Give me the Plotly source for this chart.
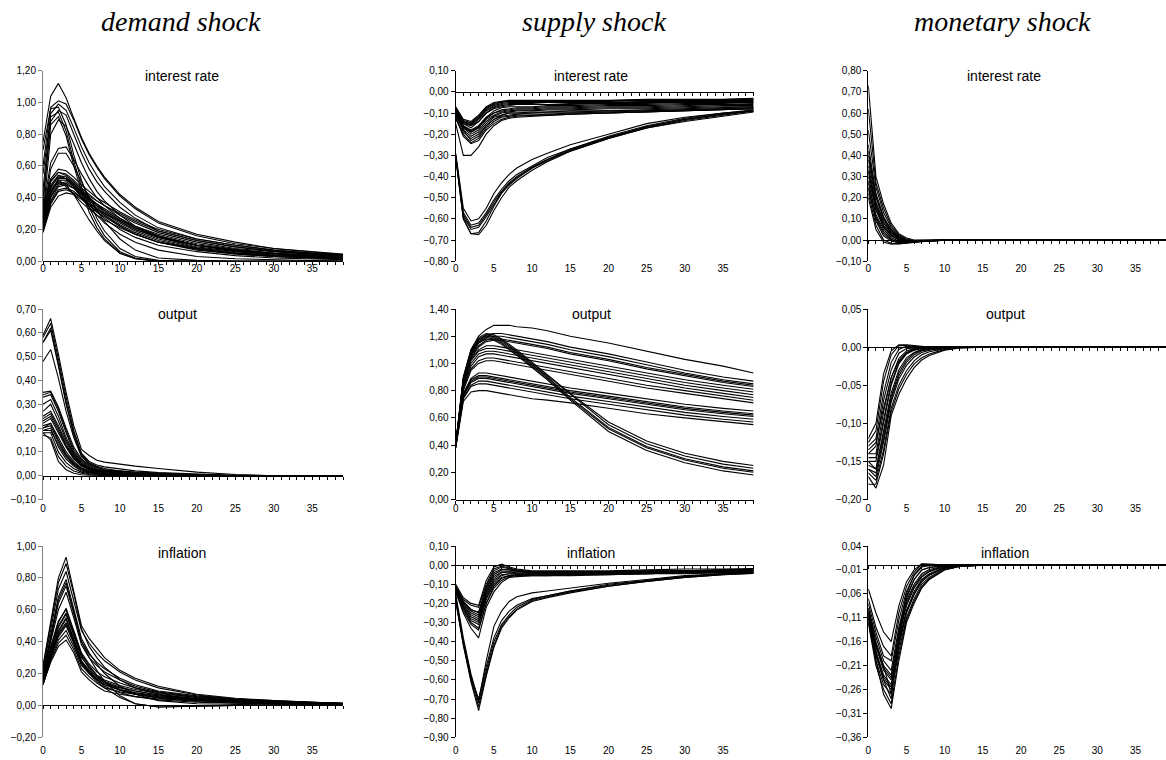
import plotly.graph_objects as go

# ---------------- data ----------------
PERIODS = [0, 1, 2, 3, 4, 5, 6, 7, 8, 10, 12, 15, 20, 25, 30, 35, 39]
X_TICKS = [0, 5, 10, 15, 20, 25, 30, 35]

SHOCKS = ["demand shock", "supply shock", "monetary shock"]
VARIABLES = ["interest rate", "output", "inflation"]

DEMAND_INTEREST = [
    [0.75, 1.04, 1.12, 1.03, 0.90, 0.78, 0.68, 0.60, 0.53, 0.42, 0.34, 0.25, 0.17, 0.12, 0.08, 0.06, 0.045],
    [0.60, 0.97, 1.01, 0.99, 0.89, 0.77, 0.67, 0.59, 0.52, 0.41, 0.33, 0.24, 0.16, 0.11, 0.08, 0.06, 0.04],
    [0.45, 0.93, 0.99, 0.95, 0.84, 0.72, 0.62, 0.54, 0.47, 0.37, 0.29, 0.21, 0.14, 0.10, 0.07, 0.05, 0.035],
    [0.35, 0.88, 0.95, 0.92, 0.80, 0.68, 0.58, 0.50, 0.44, 0.34, 0.27, 0.19, 0.13, 0.09, 0.06, 0.045, 0.03],
    [0.70, 0.96, 0.97, 0.86, 0.67, 0.51, 0.38, 0.27, 0.19, 0.08, 0.03, 0.005, 0.0, 0.0, 0.0, 0.0, 0.0],
    [0.55, 0.91, 0.94, 0.82, 0.63, 0.47, 0.34, 0.24, 0.16, 0.06, 0.02, 0.0, 0.0, 0.0, 0.0, 0.0, 0.0],
    [0.40, 0.86, 0.91, 0.79, 0.60, 0.44, 0.31, 0.21, 0.14, 0.05, 0.015, 0.0, 0.0, 0.0, 0.0, 0.0, 0.0],
    [0.28, 0.80, 0.89, 0.85, 0.74, 0.62, 0.52, 0.44, 0.38, 0.29, 0.22, 0.16, 0.10, 0.07, 0.05, 0.035, 0.025],
    [0.32, 0.62, 0.71, 0.72, 0.64, 0.55, 0.47, 0.40, 0.35, 0.27, 0.21, 0.15, 0.10, 0.07, 0.05, 0.04, 0.03],
    [0.26, 0.58, 0.68, 0.68, 0.60, 0.50, 0.40, 0.32, 0.25, 0.14, 0.07, 0.02, 0.005, 0.0, 0.0, 0.0, 0.0],
    [0.35, 0.52, 0.58, 0.57, 0.53, 0.48, 0.44, 0.40, 0.37, 0.31, 0.26, 0.20, 0.14, 0.10, 0.07, 0.05, 0.04],
    [0.30, 0.50, 0.56, 0.55, 0.51, 0.46, 0.42, 0.38, 0.35, 0.29, 0.24, 0.18, 0.12, 0.08, 0.06, 0.045, 0.035],
    [0.25, 0.46, 0.54, 0.53, 0.49, 0.44, 0.40, 0.36, 0.33, 0.27, 0.22, 0.17, 0.11, 0.075, 0.05, 0.035, 0.03],
    [0.22, 0.42, 0.51, 0.51, 0.48, 0.43, 0.39, 0.35, 0.31, 0.25, 0.20, 0.15, 0.09, 0.06, 0.04, 0.03, 0.02],
    [0.20, 0.38, 0.47, 0.48, 0.46, 0.42, 0.38, 0.34, 0.30, 0.24, 0.19, 0.14, 0.085, 0.055, 0.035, 0.025, 0.02],
    [0.18, 0.34, 0.41, 0.43, 0.42, 0.39, 0.35, 0.32, 0.29, 0.23, 0.18, 0.13, 0.08, 0.05, 0.03, 0.02, 0.015],
    [0.20, 0.40, 0.48, 0.49, 0.46, 0.41, 0.36, 0.31, 0.27, 0.20, 0.15, 0.10, 0.06, 0.035, 0.02, 0.015, 0.01],
    [0.28, 0.48, 0.54, 0.52, 0.47, 0.40, 0.34, 0.29, 0.24, 0.17, 0.12, 0.07, 0.03, 0.015, 0.01, 0.005, 0.0],
    [0.22, 0.45, 0.51, 0.48, 0.42, 0.34, 0.26, 0.19, 0.13, 0.05, 0.015, 0.0, 0.0, 0.0, 0.0, 0.0, 0.0],
    [0.32, 0.51, 0.56, 0.54, 0.50, 0.45, 0.41, 0.38, 0.35, 0.30, 0.25, 0.19, 0.13, 0.09, 0.065, 0.05, 0.04],
    [0.19, 0.36, 0.44, 0.45, 0.43, 0.40, 0.36, 0.33, 0.30, 0.25, 0.20, 0.15, 0.10, 0.07, 0.05, 0.035, 0.025],
    [0.24, 0.44, 0.50, 0.47, 0.42, 0.37, 0.33, 0.29, 0.26, 0.21, 0.17, 0.12, 0.08, 0.05, 0.035, 0.025, 0.02],
    [0.27, 0.47, 0.53, 0.52, 0.48, 0.43, 0.39, 0.35, 0.32, 0.26, 0.21, 0.16, 0.10, 0.065, 0.045, 0.03, 0.025],
    [0.21, 0.41, 0.49, 0.50, 0.47, 0.42, 0.37, 0.33, 0.29, 0.22, 0.17, 0.12, 0.07, 0.045, 0.03, 0.02, 0.015],
    [0.23, 0.43, 0.52, 0.52, 0.49, 0.44, 0.40, 0.36, 0.32, 0.26, 0.21, 0.155, 0.10, 0.065, 0.045, 0.03, 0.025],
    [0.19, 0.37, 0.45, 0.46, 0.44, 0.40, 0.35, 0.31, 0.28, 0.22, 0.17, 0.12, 0.075, 0.045, 0.03, 0.02, 0.015],
]

SUPPLY_INTEREST = [
    [-0.29, -0.55, -0.61, -0.60, -0.55, -0.48, -0.43, -0.39, -0.36, -0.32, -0.29, -0.25, -0.20, -0.15, -0.12, -0.10, -0.085],
    [-0.30, -0.57, -0.63, -0.62, -0.57, -0.51, -0.46, -0.42, -0.39, -0.35, -0.31, -0.27, -0.21, -0.16, -0.125, -0.10, -0.09],
    [-0.30, -0.58, -0.64, -0.63, -0.58, -0.52, -0.47, -0.43, -0.40, -0.355, -0.32, -0.27, -0.215, -0.165, -0.13, -0.105, -0.09],
    [-0.31, -0.60, -0.67, -0.665, -0.61, -0.54, -0.48, -0.44, -0.41, -0.36, -0.32, -0.28, -0.22, -0.17, -0.135, -0.11, -0.09],
    [-0.31, -0.60, -0.67, -0.675, -0.63, -0.56, -0.50, -0.45, -0.42, -0.37, -0.33, -0.28, -0.22, -0.17, -0.14, -0.115, -0.095],
    [-0.30, -0.59, -0.65, -0.64, -0.59, -0.53, -0.475, -0.435, -0.405, -0.36, -0.325, -0.275, -0.215, -0.165, -0.13, -0.105, -0.09],
    [-0.15, -0.30, -0.30, -0.26, -0.20, -0.16, -0.135, -0.125, -0.12, -0.115, -0.11, -0.105, -0.10, -0.095, -0.09, -0.085, -0.08],
    [-0.12, -0.20, -0.24, -0.22, -0.17, -0.14, -0.12, -0.115, -0.11, -0.11, -0.105, -0.10, -0.10, -0.095, -0.09, -0.085, -0.08],
    [-0.11, -0.18, -0.23, -0.21, -0.16, -0.13, -0.115, -0.11, -0.105, -0.10, -0.10, -0.10, -0.095, -0.09, -0.085, -0.08, -0.075],
    [-0.10, -0.17, -0.20, -0.18, -0.14, -0.115, -0.10, -0.095, -0.09, -0.09, -0.085, -0.085, -0.08, -0.08, -0.075, -0.07, -0.07],
    [-0.09, -0.16, -0.18, -0.16, -0.12, -0.10, -0.09, -0.085, -0.08, -0.08, -0.075, -0.075, -0.07, -0.07, -0.065, -0.06, -0.06],
    [-0.09, -0.15, -0.17, -0.14, -0.10, -0.08, -0.07, -0.065, -0.06, -0.06, -0.06, -0.06, -0.055, -0.055, -0.05, -0.05, -0.05],
    [-0.08, -0.14, -0.15, -0.12, -0.08, -0.06, -0.05, -0.045, -0.045, -0.045, -0.045, -0.045, -0.045, -0.04, -0.04, -0.04, -0.035],
    [-0.07, -0.13, -0.14, -0.11, -0.07, -0.05, -0.045, -0.04, -0.04, -0.04, -0.04, -0.04, -0.04, -0.035, -0.035, -0.035, -0.03],
    [-0.10, -0.18, -0.21, -0.19, -0.15, -0.12, -0.11, -0.10, -0.10, -0.095, -0.095, -0.09, -0.09, -0.085, -0.08, -0.075, -0.07],
    [-0.08, -0.15, -0.16, -0.13, -0.09, -0.07, -0.06, -0.055, -0.055, -0.055, -0.05, -0.05, -0.05, -0.05, -0.045, -0.045, -0.04],
    [-0.11, -0.17, -0.19, -0.17, -0.13, -0.11, -0.095, -0.09, -0.085, -0.085, -0.08, -0.08, -0.075, -0.075, -0.07, -0.065, -0.065],
    [-0.13, -0.19, -0.22, -0.20, -0.16, -0.13, -0.11, -0.10, -0.10, -0.10, -0.095, -0.095, -0.09, -0.09, -0.085, -0.08, -0.075],
    [-0.08, -0.14, -0.16, -0.14, -0.10, -0.075, -0.065, -0.06, -0.06, -0.06, -0.06, -0.055, -0.055, -0.05, -0.05, -0.045, -0.045],
    [-0.09, -0.16, -0.19, -0.17, -0.12, -0.09, -0.075, -0.07, -0.07, -0.07, -0.065, -0.065, -0.06, -0.06, -0.055, -0.055, -0.05],
    [-0.12, -0.21, -0.245, -0.23, -0.18, -0.15, -0.13, -0.12, -0.115, -0.11, -0.11, -0.105, -0.10, -0.095, -0.09, -0.085, -0.08],
    [-0.085, -0.145, -0.155, -0.125, -0.085, -0.065, -0.055, -0.05, -0.05, -0.05, -0.05, -0.05, -0.05, -0.045, -0.045, -0.04, -0.04],
    [-0.095, -0.165, -0.185, -0.165, -0.125, -0.10, -0.085, -0.08, -0.075, -0.075, -0.07, -0.07, -0.065, -0.065, -0.06, -0.06, -0.055],
    [-0.075, -0.135, -0.145, -0.115, -0.075, -0.055, -0.048, -0.043, -0.042, -0.042, -0.042, -0.042, -0.042, -0.038, -0.038, -0.036, -0.033],
]

MONETARY_INTEREST = [
    [0.73, 0.30, 0.17, 0.08, 0.03, 0.01, 0.0, 0.0, 0.0, 0.0, 0.0, 0.0, 0.0, 0.0, 0.0, 0.0, 0.0],
    [0.62, 0.27, 0.15, 0.07, 0.025, 0.005, -0.002, 0.0, 0.0, 0.0, 0.0, 0.0, 0.0, 0.0, 0.0, 0.0, 0.0],
    [0.52, 0.25, 0.13, 0.06, 0.02, 0.0, -0.005, -0.003, -0.001, 0.0, 0.0, 0.0, 0.0, 0.0, 0.0, 0.0, 0.0],
    [0.45, 0.22, 0.11, 0.05, 0.015, 0.0, -0.005, -0.004, -0.002, 0.0, 0.0, 0.0, 0.0, 0.0, 0.0, 0.0, 0.0],
    [0.40, 0.20, 0.10, 0.04, 0.01, -0.005, -0.006, -0.004, -0.003, -0.001, 0.0, 0.0, 0.0, 0.0, 0.0, 0.0, 0.0],
    [0.38, 0.18, 0.09, 0.035, 0.008, -0.004, -0.005, -0.004, -0.002, -0.001, 0.0, 0.0, 0.0, 0.0, 0.0, 0.0, 0.0],
    [0.35, 0.17, 0.08, 0.03, 0.005, -0.008, -0.008, -0.005, -0.003, -0.001, 0.0, 0.0, 0.0, 0.0, 0.0, 0.0, 0.0],
    [0.32, 0.16, 0.07, 0.025, 0.0, -0.01, -0.008, -0.005, -0.003, -0.001, 0.0, 0.0, 0.0, 0.0, 0.0, 0.0, 0.0],
    [0.30, 0.14, 0.06, 0.02, 0.0, -0.01, -0.008, -0.006, -0.004, -0.001, 0.0, 0.0, 0.0, 0.0, 0.0, 0.0, 0.0],
    [0.28, 0.11, 0.04, 0.005, -0.01, -0.012, -0.009, -0.006, -0.004, -0.001, 0.0, 0.0, 0.0, 0.0, 0.0, 0.0, 0.0],
    [0.25, 0.09, 0.02, -0.005, -0.015, -0.012, -0.008, -0.005, -0.003, -0.001, 0.0, 0.0, 0.0, 0.0, 0.0, 0.0, 0.0],
    [0.24, 0.10, 0.03, 0.0, -0.012, -0.012, -0.008, -0.005, -0.003, -0.001, 0.0, 0.0, 0.0, 0.0, 0.0, 0.0, 0.0],
    [0.22, 0.07, 0.0, -0.015, -0.018, -0.014, -0.009, -0.006, -0.004, -0.001, 0.0, 0.0, 0.0, 0.0, 0.0, 0.0, 0.0],
    [0.20, 0.05, -0.01, -0.02, -0.017, -0.012, -0.008, -0.005, -0.003, -0.001, 0.0, 0.0, 0.0, 0.0, 0.0, 0.0, 0.0],
    [0.27, 0.12, 0.05, 0.012, -0.006, -0.01, -0.008, -0.005, -0.003, -0.001, 0.0, 0.0, 0.0, 0.0, 0.0, 0.0, 0.0],
    [0.33, 0.15, 0.065, 0.022, 0.002, -0.008, -0.007, -0.005, -0.003, -0.001, 0.0, 0.0, 0.0, 0.0, 0.0, 0.0, 0.0],
    [0.42, 0.21, 0.105, 0.045, 0.012, -0.002, -0.005, -0.004, -0.002, 0.0, 0.0, 0.0, 0.0, 0.0, 0.0, 0.0, 0.0],
]

DEMAND_OUTPUT = [
    [0.59, 0.66, 0.51, 0.35, 0.21, 0.11, 0.085, 0.065, 0.057, 0.047, 0.04, 0.03, 0.015, 0.005, 0.0, 0.0, 0.0],
    [0.58, 0.64, 0.49, 0.33, 0.19, 0.095, 0.06, 0.045, 0.037, 0.027, 0.02, 0.013, 0.006, 0.002, 0.0, 0.0, 0.0],
    [0.56, 0.62, 0.47, 0.31, 0.18, 0.09, 0.055, 0.04, 0.03, 0.02, 0.015, 0.01, 0.004, 0.0, 0.0, 0.0, 0.0],
    [0.56, 0.61, 0.46, 0.30, 0.17, 0.085, 0.05, 0.035, 0.025, 0.017, 0.012, 0.008, 0.003, 0.0, 0.0, 0.0, 0.0],
    [0.48, 0.53, 0.41, 0.27, 0.16, 0.08, 0.05, 0.035, 0.025, 0.018, 0.013, 0.008, 0.003, 0.0, 0.0, 0.0, 0.0],
    [0.35, 0.355, 0.29, 0.20, 0.12, 0.07, 0.045, 0.03, 0.022, 0.015, 0.01, 0.006, 0.002, 0.0, 0.0, 0.0, 0.0],
    [0.34, 0.35, 0.28, 0.19, 0.11, 0.065, 0.04, 0.027, 0.02, 0.013, 0.008, 0.005, 0.002, 0.0, 0.0, 0.0, 0.0],
    [0.33, 0.34, 0.27, 0.18, 0.10, 0.06, 0.035, 0.024, 0.018, 0.012, 0.008, 0.004, 0.001, 0.0, 0.0, 0.0, 0.0],
    [0.30, 0.32, 0.25, 0.16, 0.095, 0.055, 0.032, 0.022, 0.016, 0.01, 0.006, 0.003, 0.001, 0.0, 0.0, 0.0, 0.0],
    [0.27, 0.30, 0.23, 0.15, 0.09, 0.05, 0.03, 0.02, 0.014, 0.009, 0.005, 0.003, 0.0, 0.0, 0.0, 0.0, 0.0],
    [0.24, 0.26, 0.20, 0.13, 0.08, 0.045, 0.027, 0.018, 0.012, 0.007, 0.004, 0.002, 0.0, 0.0, 0.0, 0.0, 0.0],
    [0.23, 0.25, 0.19, 0.125, 0.075, 0.042, 0.025, 0.016, 0.011, 0.007, 0.004, 0.002, 0.0, 0.0, 0.0, 0.0, 0.0],
    [0.22, 0.24, 0.18, 0.12, 0.07, 0.04, 0.024, 0.015, 0.01, 0.006, 0.003, 0.001, 0.0, 0.0, 0.0, 0.0, 0.0],
    [0.21, 0.22, 0.16, 0.10, 0.06, 0.033, 0.02, 0.012, 0.008, 0.005, 0.003, 0.001, 0.0, 0.0, 0.0, 0.0, 0.0],
    [0.20, 0.21, 0.14, 0.085, 0.05, 0.027, 0.015, 0.009, 0.006, 0.004, 0.002, 0.0, 0.0, 0.0, 0.0, 0.0, 0.0],
    [0.19, 0.20, 0.12, 0.07, 0.04, 0.02, 0.011, 0.007, 0.005, 0.003, 0.002, 0.0, 0.0, 0.0, 0.0, 0.0, 0.0],
    [0.19, 0.19, 0.13, 0.08, 0.045, 0.025, 0.013, 0.008, 0.006, 0.004, 0.002, 0.0, 0.0, 0.0, 0.0, 0.0, 0.0],
    [0.18, 0.18, 0.10, 0.055, 0.03, 0.015, 0.008, 0.005, 0.004, 0.002, 0.001, 0.0, 0.0, 0.0, 0.0, 0.0, 0.0],
    [0.17, 0.16, 0.08, 0.04, 0.02, 0.01, 0.005, 0.003, 0.002, 0.001, 0.0, 0.0, 0.0, 0.0, 0.0, 0.0, 0.0],
    [0.18, 0.15, 0.06, 0.025, 0.01, 0.004, 0.002, 0.001, 0.0, 0.0, 0.0, 0.0, 0.0, 0.0, 0.0, 0.0, 0.0],
    [0.25, 0.27, 0.21, 0.14, 0.085, 0.048, 0.029, 0.019, 0.013, 0.008, 0.005, 0.002, 0.0, 0.0, 0.0, 0.0, 0.0],
    [0.20, 0.22, 0.15, 0.09, 0.055, 0.03, 0.017, 0.011, 0.007, 0.004, 0.002, 0.001, 0.0, 0.0, 0.0, 0.0, 0.0],
]

SUPPLY_OUTPUT = [
    [0.41, 0.90, 1.10, 1.20, 1.25, 1.28, 1.28, 1.28, 1.27, 1.26, 1.24, 1.20, 1.15, 1.09, 1.03, 0.98, 0.93],
    [0.40, 0.88, 1.08, 1.17, 1.21, 1.22, 1.22, 1.21, 1.20, 1.18, 1.16, 1.12, 1.07, 1.01, 0.95, 0.90, 0.87],
    [0.40, 0.87, 1.06, 1.15, 1.19, 1.20, 1.20, 1.19, 1.18, 1.16, 1.14, 1.10, 1.05, 0.99, 0.93, 0.88, 0.85],
    [0.40, 0.86, 1.05, 1.13, 1.17, 1.18, 1.18, 1.17, 1.16, 1.14, 1.12, 1.08, 1.03, 0.97, 0.92, 0.87, 0.84],
    [0.39, 0.85, 1.04, 1.12, 1.16, 1.17, 1.17, 1.16, 1.15, 1.13, 1.11, 1.07, 1.02, 0.96, 0.91, 0.86, 0.83],
    [0.40, 0.84, 1.02, 1.09, 1.11, 1.11, 1.10, 1.09, 1.08, 1.06, 1.04, 1.01, 0.96, 0.91, 0.86, 0.82, 0.79],
    [0.39, 0.83, 1.00, 1.07, 1.09, 1.09, 1.08, 1.07, 1.06, 1.04, 1.02, 0.99, 0.94, 0.89, 0.84, 0.80, 0.77],
    [0.39, 0.82, 0.98, 1.05, 1.07, 1.07, 1.06, 1.05, 1.04, 1.02, 1.00, 0.97, 0.92, 0.87, 0.82, 0.78, 0.75],
    [0.39, 0.81, 0.96, 1.02, 1.04, 1.04, 1.03, 1.02, 1.01, 0.99, 0.97, 0.94, 0.89, 0.84, 0.80, 0.76, 0.73],
    [0.38, 0.80, 0.95, 1.00, 1.02, 1.02, 1.01, 1.00, 0.99, 0.97, 0.95, 0.92, 0.87, 0.82, 0.78, 0.74, 0.71],
    [0.40, 0.78, 0.89, 0.93, 0.93, 0.92, 0.91, 0.90, 0.89, 0.87, 0.85, 0.82, 0.78, 0.74, 0.70, 0.67, 0.65],
    [0.40, 0.77, 0.88, 0.91, 0.91, 0.90, 0.89, 0.88, 0.87, 0.85, 0.83, 0.80, 0.76, 0.72, 0.68, 0.65, 0.63],
    [0.39, 0.76, 0.86, 0.89, 0.89, 0.88, 0.87, 0.86, 0.85, 0.83, 0.81, 0.78, 0.74, 0.70, 0.66, 0.63, 0.61],
    [0.39, 0.75, 0.84, 0.87, 0.87, 0.86, 0.85, 0.84, 0.83, 0.81, 0.79, 0.76, 0.72, 0.68, 0.64, 0.61, 0.59],
    [0.38, 0.74, 0.83, 0.85, 0.85, 0.84, 0.83, 0.82, 0.81, 0.79, 0.77, 0.74, 0.70, 0.66, 0.62, 0.59, 0.57],
    [0.38, 0.72, 0.79, 0.80, 0.80, 0.79, 0.78, 0.77, 0.76, 0.74, 0.73, 0.71, 0.67, 0.63, 0.60, 0.57, 0.55],
    [0.41, 0.90, 1.10, 1.19, 1.22, 1.21, 1.18, 1.14, 1.10, 1.01, 0.92, 0.78, 0.57, 0.43, 0.34, 0.28, 0.25],
    [0.40, 0.89, 1.09, 1.18, 1.21, 1.20, 1.17, 1.13, 1.09, 1.00, 0.91, 0.77, 0.55, 0.41, 0.32, 0.26, 0.23],
    [0.40, 0.88, 1.08, 1.17, 1.20, 1.19, 1.16, 1.12, 1.08, 0.99, 0.90, 0.75, 0.53, 0.39, 0.30, 0.24, 0.21],
    [0.40, 0.88, 1.07, 1.16, 1.19, 1.18, 1.15, 1.11, 1.07, 0.98, 0.89, 0.74, 0.52, 0.38, 0.29, 0.23, 0.20],
    [0.39, 0.87, 1.06, 1.15, 1.18, 1.17, 1.14, 1.10, 1.06, 0.97, 0.88, 0.73, 0.50, 0.36, 0.27, 0.21, 0.18],
    [0.40, 0.85, 1.03, 1.10, 1.13, 1.13, 1.12, 1.11, 1.10, 1.08, 1.06, 1.03, 0.98, 0.93, 0.88, 0.84, 0.81],
    [0.39, 0.77, 0.87, 0.90, 0.90, 0.89, 0.88, 0.87, 0.86, 0.84, 0.82, 0.79, 0.75, 0.71, 0.67, 0.64, 0.62],
]

MONETARY_OUTPUT = [
    [-0.12, -0.10, -0.035, -0.005, 0.003, 0.003, 0.002, 0.001, 0.0, 0.0, 0.0, 0.0, 0.0, 0.0, 0.0, 0.0, 0.0],
    [-0.125, -0.11, -0.045, -0.01, 0.002, 0.002, 0.001, 0.0, 0.0, 0.0, 0.0, 0.0, 0.0, 0.0, 0.0, 0.0, 0.0],
    [-0.13, -0.12, -0.06, -0.02, -0.003, 0.001, 0.0, 0.0, 0.0, 0.0, 0.0, 0.0, 0.0, 0.0, 0.0, 0.0, 0.0],
    [-0.135, -0.125, -0.08, -0.04, -0.018, -0.007, -0.003, -0.001, 0.0, 0.0, 0.0, 0.0, 0.0, 0.0, 0.0, 0.0, 0.0],
    [-0.14, -0.13, -0.07, -0.03, -0.008, -0.002, -0.001, 0.0, 0.0, 0.0, 0.0, 0.0, 0.0, 0.0, 0.0, 0.0, 0.0],
    [-0.14, -0.14, -0.085, -0.04, -0.015, -0.005, -0.002, -0.001, 0.0, 0.0, 0.0, 0.0, 0.0, 0.0, 0.0, 0.0, 0.0],
    [-0.15, -0.15, -0.10, -0.05, -0.022, -0.009, -0.004, -0.002, -0.001, 0.0, 0.0, 0.0, 0.0, 0.0, 0.0, 0.0, 0.0],
    [-0.15, -0.16, -0.11, -0.06, -0.03, -0.014, -0.007, -0.003, -0.002, 0.0, 0.0, 0.0, 0.0, 0.0, 0.0, 0.0, 0.0],
    [-0.155, -0.16, -0.115, -0.065, -0.034, -0.017, -0.008, -0.004, -0.002, 0.0, 0.0, 0.0, 0.0, 0.0, 0.0, 0.0, 0.0],
    [-0.16, -0.17, -0.125, -0.072, -0.042, -0.024, -0.013, -0.007, -0.004, -0.001, 0.0, 0.0, 0.0, 0.0, 0.0, 0.0, 0.0],
    [-0.165, -0.175, -0.135, -0.08, -0.05, -0.031, -0.018, -0.01, -0.006, -0.002, 0.0, 0.0, 0.0, 0.0, 0.0, 0.0, 0.0],
    [-0.18, -0.18, -0.14, -0.085, -0.055, -0.036, -0.022, -0.014, -0.009, -0.003, -0.001, 0.0, 0.0, 0.0, 0.0, 0.0, 0.0],
    [-0.17, -0.185, -0.155, -0.09, -0.062, -0.042, -0.027, -0.017, -0.011, -0.004, -0.001, 0.0, 0.0, 0.0, 0.0, 0.0, 0.0],
    [-0.145, -0.145, -0.095, -0.047, -0.02, -0.008, -0.003, -0.001, 0.0, 0.0, 0.0, 0.0, 0.0, 0.0, 0.0, 0.0, 0.0],
    [-0.16, -0.165, -0.12, -0.068, -0.038, -0.02, -0.01, -0.005, -0.003, -0.001, 0.0, 0.0, 0.0, 0.0, 0.0, 0.0, 0.0],
]

DEMAND_INFLATION = [
    [0.25, 0.52, 0.80, 0.93, 0.72, 0.50, 0.42, 0.36, 0.30, 0.22, 0.17, 0.12, 0.07, 0.045, 0.03, 0.02, 0.015],
    [0.24, 0.50, 0.77, 0.89, 0.70, 0.48, 0.37, 0.30, 0.24, 0.16, 0.11, 0.07, 0.04, 0.025, 0.017, 0.011, 0.008],
    [0.22, 0.48, 0.73, 0.84, 0.66, 0.47, 0.39, 0.33, 0.28, 0.21, 0.16, 0.11, 0.065, 0.04, 0.028, 0.02, 0.014],
    [0.20, 0.45, 0.68, 0.79, 0.60, 0.42, 0.33, 0.26, 0.20, 0.12, 0.07, 0.03, 0.01, 0.005, 0.002, 0.0, 0.0],
    [0.19, 0.43, 0.66, 0.77, 0.58, 0.40, 0.30, 0.22, 0.15, 0.06, 0.01, -0.01, -0.005, 0.0, 0.0, 0.0, 0.0],
    [0.18, 0.42, 0.64, 0.75, 0.57, 0.40, 0.32, 0.27, 0.23, 0.17, 0.13, 0.09, 0.06, 0.04, 0.03, 0.02, 0.012],
    [0.17, 0.40, 0.60, 0.71, 0.55, 0.38, 0.30, 0.25, 0.21, 0.16, 0.12, 0.085, 0.055, 0.037, 0.026, 0.018, 0.012],
    [0.16, 0.36, 0.52, 0.61, 0.47, 0.33, 0.26, 0.21, 0.18, 0.14, 0.11, 0.08, 0.05, 0.035, 0.025, 0.017, 0.012],
    [0.16, 0.37, 0.53, 0.60, 0.46, 0.32, 0.25, 0.19, 0.15, 0.10, 0.07, 0.045, 0.025, 0.015, 0.01, 0.006, 0.004],
    [0.15, 0.34, 0.49, 0.57, 0.44, 0.30, 0.24, 0.19, 0.16, 0.125, 0.10, 0.075, 0.05, 0.034, 0.024, 0.016, 0.011],
    [0.15, 0.33, 0.47, 0.55, 0.42, 0.28, 0.21, 0.16, 0.12, 0.08, 0.055, 0.035, 0.02, 0.012, 0.008, 0.005, 0.003],
    [0.14, 0.32, 0.46, 0.54, 0.41, 0.28, 0.22, 0.18, 0.15, 0.115, 0.09, 0.065, 0.04, 0.028, 0.02, 0.013, 0.009],
    [0.14, 0.31, 0.45, 0.52, 0.40, 0.27, 0.20, 0.15, 0.11, 0.05, 0.01, -0.01, -0.005, 0.0, 0.0, 0.0, 0.0],
    [0.14, 0.30, 0.43, 0.50, 0.39, 0.26, 0.21, 0.17, 0.14, 0.11, 0.09, 0.065, 0.045, 0.03, 0.02, 0.014, 0.01],
    [0.13, 0.29, 0.41, 0.47, 0.37, 0.25, 0.20, 0.16, 0.13, 0.10, 0.08, 0.06, 0.04, 0.028, 0.02, 0.013, 0.009],
    [0.13, 0.28, 0.39, 0.44, 0.35, 0.23, 0.18, 0.14, 0.11, 0.085, 0.07, 0.05, 0.035, 0.025, 0.018, 0.012, 0.008],
    [0.13, 0.27, 0.37, 0.41, 0.33, 0.21, 0.16, 0.12, 0.09, 0.07, 0.055, 0.04, 0.03, 0.02, 0.015, 0.01, 0.007],
    [0.15, 0.35, 0.50, 0.58, 0.45, 0.31, 0.23, 0.18, 0.14, 0.095, 0.07, 0.05, 0.03, 0.02, 0.014, 0.009, 0.006],
    [0.14, 0.31, 0.44, 0.51, 0.39, 0.27, 0.21, 0.165, 0.13, 0.095, 0.075, 0.055, 0.038, 0.026, 0.018, 0.012, 0.008],
]

SUPPLY_INFLATION = [
    [-0.17, -0.40, -0.58, -0.72, -0.55, -0.40, -0.31, -0.26, -0.22, -0.18, -0.16, -0.135, -0.105, -0.08, -0.06, -0.045, -0.04],
    [-0.18, -0.41, -0.60, -0.74, -0.57, -0.42, -0.32, -0.27, -0.23, -0.185, -0.165, -0.14, -0.11, -0.085, -0.065, -0.05, -0.042],
    [-0.19, -0.42, -0.61, -0.76, -0.58, -0.43, -0.33, -0.275, -0.235, -0.19, -0.17, -0.145, -0.11, -0.085, -0.065, -0.05, -0.044],
    [-0.18, -0.41, -0.59, -0.70, -0.53, -0.38, -0.29, -0.24, -0.21, -0.175, -0.16, -0.135, -0.10, -0.08, -0.06, -0.045, -0.04],
    [-0.15, -0.38, -0.57, -0.71, -0.50, -0.32, -0.24, -0.19, -0.165, -0.145, -0.135, -0.12, -0.095, -0.075, -0.055, -0.045, -0.038],
    [-0.10, -0.17, -0.20, -0.21, -0.08, -0.01, 0.005, -0.01, -0.02, -0.03, -0.03, -0.03, -0.03, -0.025, -0.02, -0.02, -0.018],
    [-0.11, -0.18, -0.21, -0.22, -0.10, -0.02, -0.005, -0.015, -0.025, -0.035, -0.035, -0.035, -0.035, -0.03, -0.03, -0.025, -0.022],
    [-0.11, -0.19, -0.23, -0.25, -0.12, -0.04, -0.02, -0.025, -0.03, -0.04, -0.04, -0.04, -0.04, -0.035, -0.03, -0.03, -0.025],
    [-0.11, -0.19, -0.24, -0.26, -0.13, -0.05, -0.025, -0.025, -0.03, -0.035, -0.035, -0.035, -0.035, -0.03, -0.03, -0.025, -0.025],
    [-0.12, -0.20, -0.25, -0.27, -0.14, -0.06, -0.035, -0.035, -0.04, -0.045, -0.045, -0.045, -0.04, -0.04, -0.035, -0.03, -0.03],
    [-0.12, -0.21, -0.26, -0.28, -0.15, -0.07, -0.04, -0.035, -0.035, -0.04, -0.04, -0.04, -0.04, -0.035, -0.035, -0.03, -0.028],
    [-0.12, -0.21, -0.27, -0.29, -0.16, -0.08, -0.05, -0.045, -0.045, -0.05, -0.05, -0.05, -0.045, -0.04, -0.04, -0.035, -0.03],
    [-0.13, -0.22, -0.28, -0.30, -0.17, -0.09, -0.055, -0.045, -0.045, -0.045, -0.045, -0.045, -0.045, -0.04, -0.035, -0.035, -0.03],
    [-0.13, -0.22, -0.29, -0.31, -0.18, -0.10, -0.065, -0.055, -0.05, -0.05, -0.05, -0.05, -0.045, -0.045, -0.04, -0.035, -0.035],
    [-0.13, -0.23, -0.30, -0.33, -0.20, -0.12, -0.08, -0.06, -0.055, -0.055, -0.055, -0.05, -0.05, -0.045, -0.04, -0.04, -0.035],
    [-0.14, -0.24, -0.31, -0.34, -0.20, -0.11, -0.07, -0.055, -0.05, -0.05, -0.05, -0.05, -0.045, -0.045, -0.04, -0.04, -0.035],
    [-0.14, -0.25, -0.33, -0.38, -0.22, -0.14, -0.09, -0.065, -0.06, -0.055, -0.055, -0.055, -0.05, -0.045, -0.045, -0.04, -0.04],
    [-0.115, -0.195, -0.235, -0.245, -0.11, -0.03, -0.01, -0.02, -0.028, -0.038, -0.038, -0.038, -0.037, -0.033, -0.03, -0.027, -0.024],
]

MONETARY_INFLATION = [
    [-0.05, -0.10, -0.14, -0.16, -0.085, -0.035, -0.01, 0.003, 0.002, 0.0, 0.0, 0.0, 0.0, 0.0, 0.0, 0.0, 0.0],
    [-0.07, -0.13, -0.17, -0.19, -0.10, -0.045, -0.015, 0.002, 0.001, 0.0, 0.0, 0.0, 0.0, 0.0, 0.0, 0.0, 0.0],
    [-0.08, -0.14, -0.19, -0.20, -0.115, -0.055, -0.022, -0.004, -0.001, 0.0, 0.0, 0.0, 0.0, 0.0, 0.0, 0.0, 0.0],
    [-0.09, -0.15, -0.20, -0.22, -0.13, -0.065, -0.03, -0.01, -0.005, -0.001, 0.0, 0.0, 0.0, 0.0, 0.0, 0.0, 0.0],
    [-0.09, -0.16, -0.21, -0.23, -0.14, -0.075, -0.04, -0.018, -0.009, -0.002, 0.0, 0.0, 0.0, 0.0, 0.0, 0.0, 0.0],
    [-0.10, -0.17, -0.22, -0.24, -0.15, -0.085, -0.048, -0.025, -0.014, -0.004, -0.001, 0.0, 0.0, 0.0, 0.0, 0.0, 0.0],
    [-0.10, -0.18, -0.23, -0.25, -0.16, -0.095, -0.055, -0.03, -0.018, -0.005, -0.001, 0.0, 0.0, 0.0, 0.0, 0.0, 0.0],
    [-0.11, -0.19, -0.24, -0.26, -0.17, -0.10, -0.062, -0.035, -0.021, -0.006, -0.002, 0.0, 0.0, 0.0, 0.0, 0.0, 0.0],
    [-0.11, -0.20, -0.25, -0.27, -0.18, -0.11, -0.07, -0.04, -0.025, -0.008, -0.002, 0.0, 0.0, 0.0, 0.0, 0.0, 0.0],
    [-0.12, -0.21, -0.26, -0.29, -0.19, -0.115, -0.075, -0.045, -0.028, -0.009, -0.003, 0.0, 0.0, 0.0, 0.0, 0.0, 0.0],
    [-0.12, -0.20, -0.27, -0.30, -0.20, -0.12, -0.08, -0.048, -0.03, -0.01, -0.003, 0.0, 0.0, 0.0, 0.0, 0.0, 0.0],
    [-0.10, -0.17, -0.21, -0.27, -0.14, -0.06, -0.02, -0.002, 0.001, 0.0, 0.0, 0.0, 0.0, 0.0, 0.0, 0.0, 0.0],
    [-0.11, -0.18, -0.24, -0.28, -0.16, -0.07, -0.03, -0.01, -0.005, -0.001, 0.0, 0.0, 0.0, 0.0, 0.0, 0.0, 0.0],
    [-0.095, -0.165, -0.215, -0.235, -0.145, -0.08, -0.044, -0.022, -0.012, -0.003, 0.0, 0.0, 0.0, 0.0, 0.0, 0.0, 0.0],
    [-0.105, -0.185, -0.235, -0.255, -0.165, -0.098, -0.06, -0.033, -0.02, -0.006, -0.001, 0.0, 0.0, 0.0, 0.0, 0.0, 0.0],
]

# y-axis ranges and tick values per panel (row-major: interest, output, inflation)
Y_RANGES = [
    [0.0, 1.2], [-0.8, 0.1], [-0.1, 0.8],
    [-0.1, 0.7], [0.0, 1.4], [-0.2, 0.05],
    [-0.2, 1.0], [-0.9, 0.1], [-0.36, 0.04],
]
Y_TICKS = [
    [0.0, 0.2, 0.4, 0.6, 0.8, 1.0, 1.2],
    [-0.8, -0.7, -0.6, -0.5, -0.4, -0.3, -0.2, -0.1, 0.0, 0.1],
    [-0.1, 0.0, 0.1, 0.2, 0.3, 0.4, 0.5, 0.6, 0.7, 0.8],
    [-0.1, 0.0, 0.1, 0.2, 0.3, 0.4, 0.5, 0.6, 0.7],
    [0.0, 0.2, 0.4, 0.6, 0.8, 1.0, 1.2, 1.4],
    [-0.2, -0.15, -0.1, -0.05, 0.0, 0.05],
    [-0.2, 0.0, 0.2, 0.4, 0.6, 0.8, 1.0],
    [-0.9, -0.8, -0.7, -0.6, -0.5, -0.4, -0.3, -0.2, -0.1, 0.0, 0.1],
    [-0.36, -0.31, -0.26, -0.21, -0.16, -0.11, -0.06, -0.01, 0.04],
]

PANELS = [
    DEMAND_INTEREST, SUPPLY_INTEREST, MONETARY_INTEREST,
    DEMAND_OUTPUT, SUPPLY_OUTPUT, MONETARY_OUTPUT,
    DEMAND_INFLATION, SUPPLY_INFLATION, MONETARY_INFLATION,
]

# ---------------- layout geometry (pixels) ----------------
W, H = 1166, 760
COL_PX = [(43, 343), (455.7, 753.6), (868.3, 1166)]
ROW_PX = [(70.7, 261.2), (309, 499.5), (546, 737.3)]
ROW_LABEL_GAP = [0, 1, 6]
TITLE_X = [[182, 591, 1004], [177, 591, 1005], [182, 591, 1005]]
TITLE_Y = [76, 314, 553]
SHOCK_X = [181, 594, 1003]
SHOCK_Y = 21

fig = go.Figure()
layout = dict(
    template="none",
    width=W, height=H, autosize=False,
    margin=dict(l=0, r=0, t=0, b=0, pad=0, autoexpand=False),
    paper_bgcolor="white", plot_bgcolor="white",
    showlegend=False,
    separators=",.",
    font=dict(family="Liberation Sans, Arial, sans-serif", size=10, color="black"),
)

annotations = []
for k in range(9):
    r, c = divmod(k, 3)
    idx = k + 1
    sfx = "" if idx == 1 else str(idx)
    ov = idx + 9
    xd = [COL_PX[c][0] / W, min(COL_PX[c][1] / W, 1.0)]
    yd = [1 - ROW_PX[r][1] / H, 1 - ROW_PX[r][0] / H]
    ymin, ymax = Y_RANGES[k]
    axis_col = "#808080" if c == 0 else "black"

    for series in PANELS[k]:
        fig.add_trace(go.Scatter(
            x=PERIODS, y=series, mode="lines",
            line=dict(color="black", width=1.1),
            xaxis="x" + sfx, yaxis="y" + sfx,
            hoverinfo="skip", showlegend=False,
        ))
    # dummy trace to register zero-line axis
    fig.add_trace(go.Scatter(x=[None], y=[None], mode="lines",
                             xaxis="x" + str(ov), yaxis="y" + sfx,
                             hoverinfo="skip", showlegend=False))

    layout["xaxis" + sfx] = dict(
        domain=xd, range=[0, 39], anchor="y" + sfx, automargin=False,
        tickvals=X_TICKS, ticks="", showline=False, showgrid=False,
        zeroline=False, tickfont=dict(size=10), ticklabelstandoff=ROW_LABEL_GAP[r],
    )
    zero_pos = yd[0] + (0 - ymin) / (ymax - ymin) * (yd[1] - yd[0])
    layout["xaxis" + str(ov)] = dict(
        overlaying="x" + sfx, anchor="free", position=zero_pos, automargin=False,
        range=[0, 39], showline=True, linecolor="black", linewidth=1,
        ticks="outside", ticklen=3, tickcolor="black", tickwidth=1,
        tick0=0, dtick=1, showticklabels=False, showgrid=False, zeroline=False,
    )
    layout["yaxis" + sfx] = dict(
        domain=yd, range=[ymin, ymax], anchor="x" + sfx, automargin=False,
        tickvals=Y_TICKS[k], tickformat=".2f",
        showline=True, linecolor=axis_col, linewidth=1,
        ticks="outside", ticklen=4, tickcolor=axis_col, tickwidth=1,
        showgrid=False, zeroline=False, tickfont=dict(size=10),
    )
    annotations.append(dict(
        text=VARIABLES[r], x=TITLE_X[r][c] / W, y=1 - TITLE_Y[r] / H,
        xref="paper", yref="paper", xanchor="center", yanchor="middle",
        showarrow=False, font=dict(size=14, family="Liberation Sans, Arial, sans-serif"),
    ))

for c, name in enumerate(SHOCKS):
    annotations.append(dict(
        text="<i>" + name + "</i>", x=SHOCK_X[c] / W, y=1 - SHOCK_Y / H,
        xref="paper", yref="paper", xanchor="center", yanchor="middle",
        showarrow=False,
        font=dict(size=28, family="Liberation Serif, Times New Roman, serif"),
    ))

layout["annotations"] = annotations
fig.update_layout(**layout)
fig.write_html(
    "out.html",
    config={"displayModeBar": False, "responsive": False},
    post_script="document.body.style.margin='0';document.body.style.padding='0';"
                "document.documentElement.style.overflow='hidden';",
)
